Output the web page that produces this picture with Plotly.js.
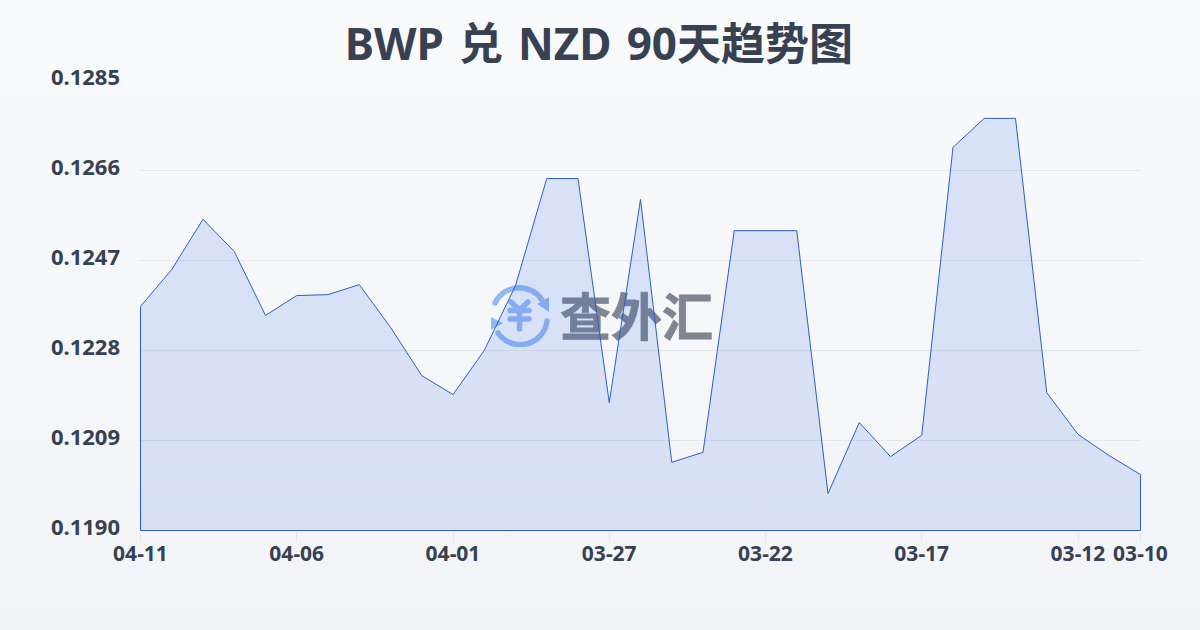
<!DOCTYPE html>
<html><head><meta charset="utf-8">
<script src="https://cdn.plot.ly/plotly-3.0.1.min.js"></script>
<style>
html,body{margin:0;padding:0;width:1200px;height:630px;overflow:hidden;background:linear-gradient(180deg,#f9fafc 0%,#f3f4f7 100%);font-family:"Noto Sans","Noto Sans CJK SC",sans-serif}
#mark{position:absolute;left:489px;top:285px;width:230px;height:60px}
#mark svg{position:absolute;left:0;top:0}
#mark span{position:absolute;left:71px;top:-6px;font:700 51px/70px "Noto Sans CJK SC",sans-serif;color:#7f8591;white-space:nowrap;-webkit-text-stroke:0.8px #7f8591}
#chart{position:absolute;left:0;top:0;width:1200px;height:630px}
.gtitle{word-spacing:3.7px}
</style></head><body>
<div id="mark">
<svg width="62" height="62" viewBox="0 0 62 62" fill="none" stroke="#93b9f5" stroke-linecap="round" stroke-linejoin="round">
<path d="M6 18 A27 27 0 0 1 53 15" stroke-width="5.5"/>
<path d="M58 36 A27 27 0 0 1 9 48" stroke-width="5.5"/>
<path d="M48 19 L60 12 L60 27 Z" fill="#93b9f5" stroke="none"/>
<path d="M2 32 L14 38 L2 45 Z" fill="#93b9f5" stroke="none"/>
<path d="M22 17 L30.5 25 L39 17 M21 25.5 H40 M21 34 H40 M30.5 25 V44" stroke-width="5.5"/>
</svg>
<span>查外汇</span>
</div>
<div id="chart"></div>
<script>
const dates = ["04-11","04-10","04-09","04-08","04-07","04-06","04-05","04-04","04-03","04-02","04-01","03-31","03-30","03-29","03-28","03-27","03-26","03-25","03-24","03-23","03-22","03-21","03-20","03-19","03-18","03-17","03-16","03-15","03-14","03-13","03-12","03-11","03-10"];
const rates = [0.12373,0.12451,0.12557,0.12489,0.12354,0.12396,0.12398,0.12419,0.12329,0.12227,0.12187,0.12280,0.12417,0.12643,0.12643,0.12170,0.12599,0.12044,0.12065,0.12533,0.12533,0.12533,0.11978,0.12128,0.12056,0.12101,0.12709,0.12770,0.12770,0.12191,0.12103,0.12058,0.12018];
const xTicks = ["04-11","04-06","04-01","03-27","03-22","03-17","03-12","03-10"];
const yTicks = [0.1190,0.1209,0.1228,0.1247,0.1266,0.1285];
const titleText = "BWP 兑 NZD 90天趋势图";
const base = yTicks[0];
const top_ = yTicks[yTicks.length-1];
const last = dates[dates.length-1];
const FONT = '"Noto Sans","Noto Sans CJK SC",sans-serif';
// half a pixel of slack on every side so the outline is not clipped by the plot area
const padY = (top_-base)/450*0.5;
const padX = (dates.length-1)/1000*0.5;
const trace = {
  type:'scatter', mode:'lines',
  x:[dates[0],...dates,last,dates[0]],
  y:[base,...rates,base,base],
  fill:'toself',
  fillgradient:{type:'vertical',start:top_,stop:base,colorscale:[[0,'rgba(37,95,225,0.15)'],[1,'rgba(37,95,225,0.14)']]},
  line:{color:'#2b5fc7',width:1,shape:'linear'},
  hoverinfo:'skip'
};
const layout = {
  width:1200,height:630,
  paper_bgcolor:'rgba(0,0,0,0)',plot_bgcolor:'rgba(0,0,0,0)',
  margin:{l:140,r:59,t:80,b:99},
  showlegend:false,
  title:{text:titleText,x:0.499,xanchor:'center',y:0.929,yanchor:'middle',font:{family:FONT,size:44,weight:700,color:'#374151'}},
  xaxis:{type:'category',categoryorder:'array',categoryarray:dates,range:[-padX,dates.length-1+padX],tickmode:'array',tickvals:xTicks,ticktext:xTicks,
    showgrid:false,zeroline:false,showline:false,ticks:'outside',ticklen:10,tickwidth:1,tickcolor:'#e5e7eb',tickangle:0,ticklabelstandoff:-6,
    tickfont:{family:FONT,size:21,weight:700,color:'#374151'}},
  yaxis:{range:[base-padY,top_+padY],tickmode:'array',tickvals:yTicks,ticktext:yTicks.map(v=>v.toFixed(4)),
    showgrid:true,gridcolor:'#e5e7eb',gridwidth:1,zeroline:false,showline:false,ticks:'',ticklen:0,ticklabelstandoff:19,ticklabelshift:-3,
    tickfont:{family:FONT,size:22,weight:700,color:'#374151'}},
  hovermode:false
};
Plotly.newPlot('chart',[trace],layout,{displayModeBar:false,staticPlot:true});
</script></body></html>
